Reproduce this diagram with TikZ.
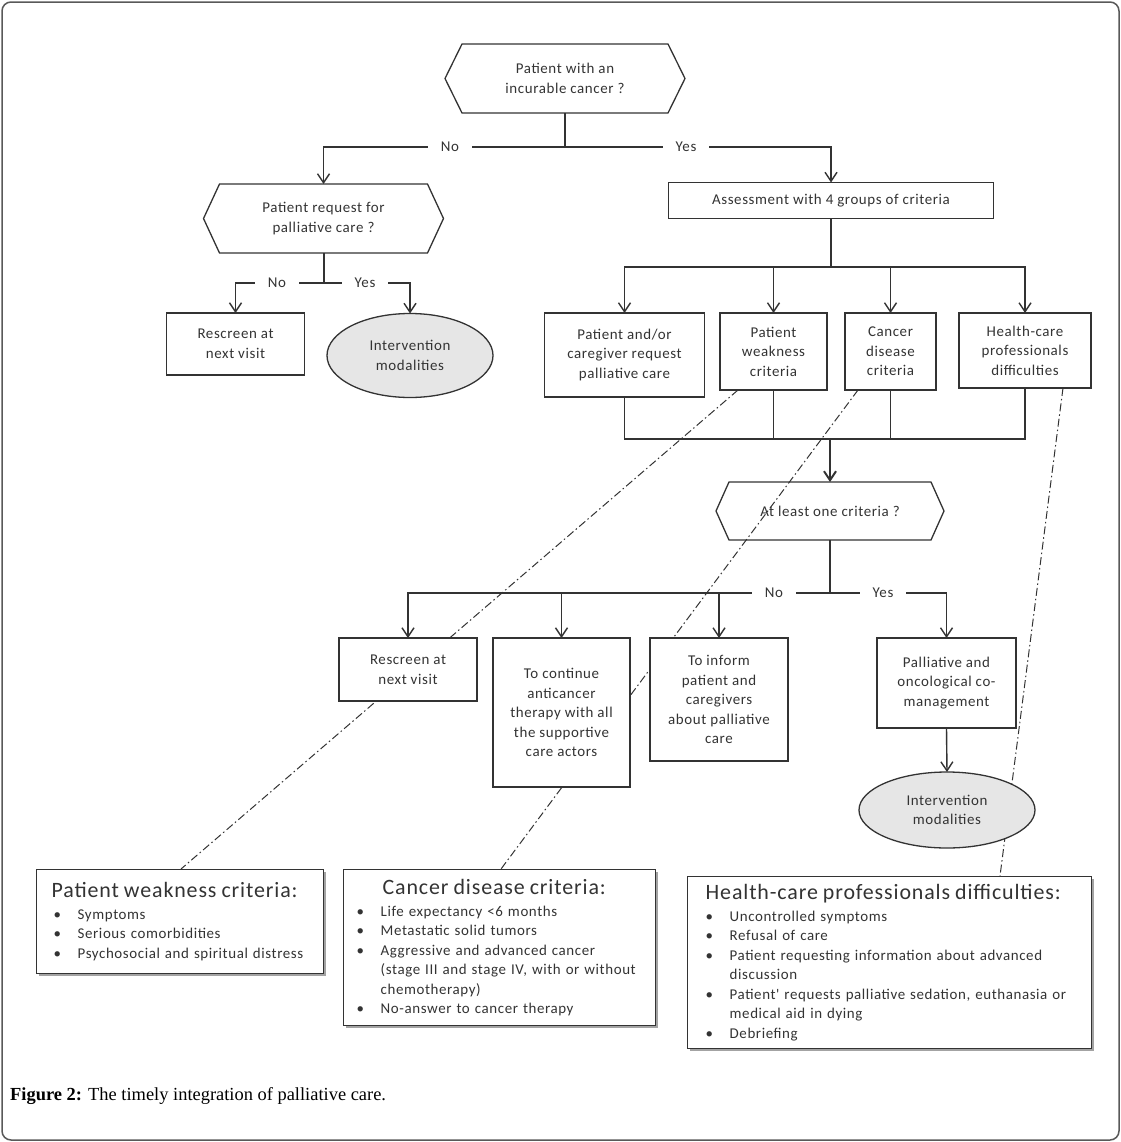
\documentclass[tikz,border=0pt]{standalone}
\usepackage{fontspec}
\setmainfont{Carlito}
\newfontfamily\dfont[LetterSpace=4]{Carlito}
\newfontfamily\capfont{Liberation Serif}
\usetikzlibrary{arrows.meta,shadows,shapes.geometric,calc}
\pgfdeclarelayer{background}
\pgfsetlayers{background,main}
\definecolor{linec}{HTML}{333333}
\definecolor{ovalfill}{HTML}{E6E6E6}
\newcommand\fs{\dfont\fontsize{15}{19.6}\selectfont}
\newcommand\tfs{\dfont\fontsize{22}{23}\selectfont}
\newcommand\bul{\makebox[24bp][l]{•}}
\newcommand\ind{\hspace*{24bp}}
\newcommand\hexpath[2]{\draw[hexline] (#1.west) -- ([xshift=#2]#1.north west) -- ([xshift=-#2]#1.north east) -- (#1.east) -- ([xshift=-#2]#1.south east) -- ([xshift=#2]#1.south west) -- cycle;}
\begin{document}
\begin{tikzpicture}[x=1bp,y=-1bp,
  line/.style={draw=linec, line width=1.4bp},
  thickline/.style={draw=linec, line width=2bp},
  arr/.style={line, -{Straight Barb[length=9bp,width=12bp]}},
  hexline/.style={draw=linec, line width=1.3bp},
  hexn/.style={inner sep=0pt, outer sep=0pt, align=center, font=\fs, text=linec},
  box/.style={draw=linec, line width=1.4bp, fill=white, inner sep=0pt, outer sep=0pt, align=center, font=\fs, text=linec},
  oval/.style={ellipse, draw=linec, line width=1.3bp, fill=ovalfill, inner sep=0pt, outer sep=0pt, align=center, font=\fs, text=linec},
  lbl/.style={fill=white, inner xsep=13bp, inner ysep=3bp, font=\fs, text=linec},
  crit/.style={draw=linec, line width=1.4bp, fill=white, anchor=north west, align=left, font=\fs, text=linec,
     inner xsep=0pt, inner ysep=0pt, drop shadow={shadow xshift=2.5bp, shadow yshift=-2.5bp, fill=black!45, opacity=0.8}},
  dd/.style={draw=linec, line width=1bp, dash pattern=on 8bp off 3bp on 1.5bp off 3bp}
]
\useasboundingbox (0,0) rectangle (1121,1142);
\draw[draw=black!65, line width=1.5bp, rounded corners=9bp] (2,2) rectangle (1119,1140);

% coordinates of junction rows
\coordinate (r1) at (0,147);
\coordinate (r2) at (0,283);
\coordinate (r3) at (0,267);
\coordinate (r4) at (0,439);
\coordinate (r5) at (0,593);

% top level
\node[hexn, minimum width=240bp, minimum height=69bp] (q1) at (565,78.5) {Patient with an\\incurable cancer ?};
\hexpath{q1}{17bp}
\node[hexn, minimum width=240bp, minimum height=69bp] (q2) at (323.5,218.5) {Patient request for\\palliative care ?};
\hexpath{q2}{16bp}
\node[box, minimum width=325bp, minimum height=36bp] (assess) at (831,200.5) {Assessment with 4 groups of criteria};

\node[box, minimum width=138bp, minimum height=62bp] (rs1) at (235.5,344) {Rescreen at\\next visit};
\node[oval, minimum width=166bp, minimum height=84bp] (iv1) at (410,355.5) {Intervention\\modalities};

\node[box, minimum width=160bp, minimum height=84bp] (pc) at (624.5,355) {Patient and/or\\caregiver request\\palliative care};
\node[box, minimum width=107bp, minimum height=77bp] (pw) at (773.5,351.5) {Patient\\weakness\\criteria};
\node[box, minimum width=91bp, minimum height=77bp] (cd) at (890.5,351.5) {Cancer\\disease\\criteria};
\node[box, minimum width=132bp, minimum height=75bp] (hc) at (1025,350.5) {Health-care\\professionals\\difficulties};

\node[hexn, minimum width=228bp, minimum height=58bp] (q3) at (830,511) {At least one criteria ?};
\hexpath{q3}{13bp}

\node[box, minimum width=138bp, minimum height=63bp] (rs2) at (408,669.5) {Rescreen at\\next visit};
\node[box, minimum width=137bp, minimum height=149bp] (tc) at (561.5,712.5) {To continue\\anticancer\\therapy with all\\the supportive\\care actors};
\node[box, minimum width=138bp, minimum height=123bp] (ti) at (719,699.5) {To inform\\patient and\\caregivers\\about palliative\\care};
\node[box, minimum width=139bp, minimum height=90bp] (pal) at (946.5,683) {Palliative and\\oncological co-\\management};
\node[oval, minimum width=176bp, minimum height=76bp] (iv2) at (947,810) {Intervention\\modalities};

% bottom criteria boxes
\node[crit, text width=287bp, minimum height=104bp] (pwc) at (36,869) {%
\hspace*{15bp}{\tfs Patient weakness criteria:}\\[2bp]
\hspace*{17bp}\bul Symptoms\\
\hspace*{17bp}\bul Serious comorbidities\\
\hspace*{17bp}\bul Psychosocial and spiritual distress};
\node[crit, text width=312bp, minimum height=156bp] (cdc) at (343,869) {%
\hspace*{39bp}{\tfs Cancer disease criteria:}\\[2bp]
\hspace*{13bp}\bul Life expectancy <6 months\\
\hspace*{13bp}\bul Metastatic solid tumors\\
\hspace*{13bp}\bul Aggressive and advanced cancer\\
\hspace*{13bp}\ind (stage III and stage IV, with or without\\
\hspace*{13bp}\ind chemotherapy)\\
\hspace*{13bp}\bul No-answer to cancer therapy};
\node[crit, text width=404bp, minimum height=172bp] (hcc) at (687,876) {%
\hspace*{18bp}{\tfs Health-care professionals difficulties:}\\[2bp]
\hspace*{18bp}\bul Uncontrolled symptoms\\
\hspace*{18bp}\bul Refusal of care\\
\hspace*{18bp}\bul Patient requesting information about advanced\\
\hspace*{18bp}\ind discussion\\
\hspace*{18bp}\bul Patient' requests palliative sedation, euthanasia or\\
\hspace*{18bp}\ind medical aid in dying\\
\hspace*{18bp}\bul Debriefing};

% connectors, level 1
\draw[thickline] (q1.south) -- (q1.south |- r1) coordinate (j1);
\draw[arr] (j1) -| (q2.north);
\draw[arr] (j1) -| (assess.north);
\node[lbl] (no1) at (450,147) {No};
\node[lbl] (yes1) at (686,147) {Yes};

% level 2 left
\draw[thickline] (q2.south) -- (q2.south |- r2) coordinate (j2);
\draw[arr] (j2) -| (rs1.north);
\draw[arr] (j2) -| (iv1.north);
\node[lbl] (no2) at (277,283) {No};
\node[lbl] (yes2) at (365,283) {Yes};

% level 2 right
\draw[thickline] (assess.south) -- (assess.south |- r3) coordinate (j3);
\draw[arr] (j3) -| (pc.north);
\draw[arr] (j3) -| (pw.north);
\draw[arr] (j3) -| (cd.north);
\draw[arr] (j3) -| (hc.north);

% merge
\draw[line] (pc.south) |- (hc.south |- r4) -- (hc.south);
\draw[line] (pw.south) -- (pw.south |- r4);
\draw[line] (cd.south) -- (cd.south |- r4);
\draw[arr, line width=2bp] (q3.north |- r4) -- (q3.north);

% level 3
\draw[thickline] (q3.south) -- (q3.south |- r5) coordinate (j5);
\draw[arr] (j5) -| (rs2.north);
\draw[arr] (j5) -| (tc.north);
\draw[arr] (j5) -| (ti.north);
\draw[arr] (j5) -| (pal.north);
\node[lbl] (no3) at (774,593) {No};
\node[lbl] (yes3) at (883,593) {Yes};
\draw[arr] (pal.south) -- (iv2.north);

% dash-dot links
\begin{pgfonlayer}{background}
\draw[dd] ($(pw.south west)+(18,0)$) -- (pwc.north -| 181,0);
\draw[dd] ($(cd.south west)+(13,0)$) -- (cdc.north -| 501,0);
\draw[dd] ($(hc.south west)+(104,0)$) -- (hcc.north -| 1000,0);
\end{pgfonlayer}

% caption
\node[anchor=west, inner sep=0pt, font=\capfont\fontsize{18.5}{21}\selectfont] (cap) at (10,1096) {\textbf{Figure 2:} The timely integration of palliative care.};
\end{tikzpicture}
\end{document}
